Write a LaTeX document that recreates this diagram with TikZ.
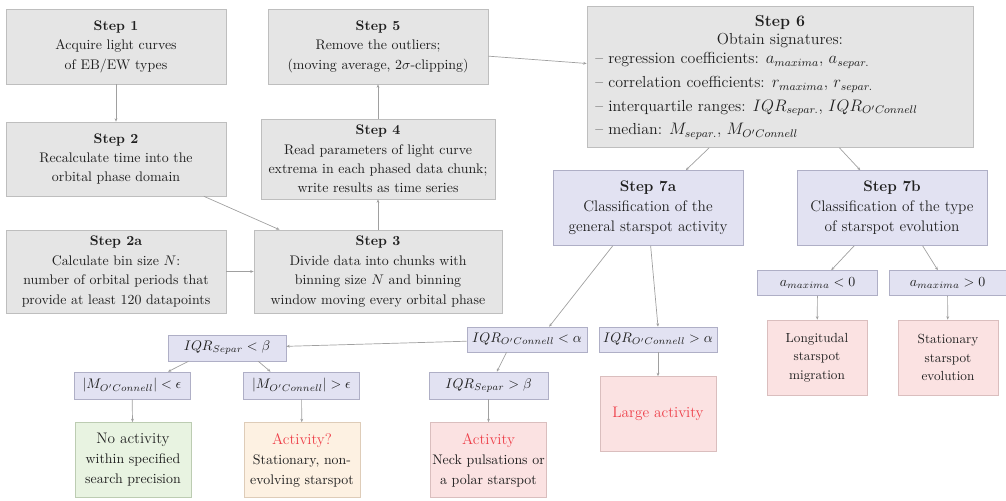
\documentclass[tikz,border=0pt]{standalone}
\usepackage{tikz}
\usetikzlibrary{arrows.meta}
\def\pxu{0.72pt}
\definecolor{stepfill}{RGB}{229,229,229}
\definecolor{stepline}{RGB}{190,190,190}
\definecolor{classfill}{RGB}{226,226,242}
\definecolor{classline}{RGB}{175,175,198}
\definecolor{nofill}{RGB}{232,243,225}
\definecolor{noline}{RGB}{188,204,178}
\definecolor{maybefill}{RGB}{253,241,226}
\definecolor{maybeline}{RGB}{222,204,184}
\definecolor{actfill}{RGB}{251,226,226}
\definecolor{actline}{RGB}{218,190,190}
\definecolor{acttext}{RGB}{238,62,72}
\definecolor{linkgray}{RGB}{160,160,160}
\tikzset{
  stepbox/.style={draw=stepline, fill=stepfill, rectangle, align=center, inner sep=1pt, text=black!88, font=\fontsize{10}{14}\selectfont},
  classbox/.style={draw=classline, fill=classfill, rectangle, align=center, inner sep=1pt, text=black!88, font=\fontsize{11}{14.4}\selectfont},
  condbox/.style={classbox, font=\normalsize, minimum height=25*\pxu},
  resbox/.style={rectangle, align=center, inner sep=1pt, text=black!88, minimum width=116*\pxu, minimum height=75*\pxu, font=\fontsize{10}{14.4}\selectfont},
  headtext/.style={font=\fontsize{11}{14.4}\selectfont},
  link/.style={draw=linkgray, line width=0.5pt, -{Stealth[length=2.5pt, width=2pt]}}
}
\begin{document}
\begin{tikzpicture}[x=0.72pt, y=-0.72pt]
		%%%%% START %%%%%
		\useasboundingbox (0,0) rectangle (1006,500);
		
		% left column of steps
		\node[stepbox, minimum width=220*\pxu, minimum height=75*\pxu] (s1) at (116,46.5) {\textbf{Step 1}\\Acquire light curves\\of EB/EW types};
		\node[stepbox, minimum width=220*\pxu, minimum height=74*\pxu] (s2) at (116,159) {\textbf{Step 2}\\Recalculate time into the\\orbital phase domain};
		\node[stepbox, minimum width=220*\pxu, minimum height=83*\pxu] (s2a) at (116,271.5) {\textbf{Step 2a}\\Calculate bin size $N$:\\number of orbital periods that\\provide at least 120 datapoints};
		
		% middle column
		\node[stepbox, minimum width=248*\pxu, minimum height=83*\pxu] (s3) at (378,271.5) {\textbf{Step 3}\\Divide data into chunks with\\binning size $N$ and binning\\window moving every orbital phase};
		\node[stepbox, minimum width=234*\pxu, minimum height=80*\pxu] (s4) at (378,159) {\textbf{Step 4}\\Read parameters of light curve\\extrema in each phased data chunk;\\write results as time series};
		\node[stepbox, minimum width=220*\pxu, minimum height=75*\pxu] (s5) at (378,46.5) {\textbf{Step 5}\\Remove the outliers;\\(moving average, $2\sigma$-clipping)};
		
		% signatures
		\node[stepbox, font=\fontsize{11.5}{13}\selectfont, minimum width=386*\pxu, minimum height=141*\pxu] (s6) at (780,77) {\begin{tabular}{@{}p{266pt}@{}}
			\multicolumn{1}{@{}c@{}}{\textbf{Step 6}}\\
			\multicolumn{1}{@{}c@{}}{Obtain signatures:}\\[1pt]
			-- regression coefficients: $a_{maxima}$, $a_{separ.}$\\[4pt]
			-- correlation coefficients: $r_{maxima}$, $r_{separ.}$\\[4pt]
			-- interquartile ranges: $IQR_{separ.}$, $IQR_{O'Connell}$\\[4pt]
			-- median: $M_{separ.}$, $M_{O'Connell}$
		\end{tabular}};
		
		% classification
		\node[classbox, minimum width=190*\pxu, minimum height=75*\pxu] (s7a) at (648,208) {\textbf{Step 7a}\\Classification of the\\general starspot activity};
		\node[classbox, minimum width=190*\pxu, minimum height=75*\pxu] (s7b) at (892,208) {\textbf{Step 7b}\\Classification of the type\\of starspot evolution};
		
		% type of evolution
		\node[condbox, minimum width=120*\pxu] (ca) at (817.5,283) {$a_{maxima}<0$};
		\node[condbox, minimum width=117*\pxu] (cb) at (947.5,283) {$a_{maxima}>0$};
		\node[resbox, draw=actline, fill=actfill, minimum width=100*\pxu, font=\fontsize{9.5}{13.2}\selectfont] (rl) at (817,357.5) {Longitudal\\starspot\\migration};
		\node[resbox, draw=actline, fill=actfill, minimum width=100*\pxu, font=\fontsize{9.5}{13.2}\selectfont] (rs) at (948,357.5) {Stationary\\starspot\\evolution};
		
		% general activity
		\node[condbox, minimum width=120*\pxu] (qa) at (527,339.5) {$IQR_{O'Connell}<\alpha$};
		\node[condbox, minimum width=118*\pxu] (qb) at (658,339.5) {$IQR_{O'Connell}>\alpha$};
		\node[resbox, draw=actline, fill=actfill, headtext] (rla) at (658,414) {\textcolor{acttext}{Large activity}};
		\node[condbox, minimum width=118*\pxu, minimum height=26*\pxu] (sb) at (227,348) {$IQR_{Separ}<\beta$};
		\node[condbox, minimum width=119*\pxu, minimum height=27*\pxu] (sc) at (488.5,385.5) {$IQR_{Separ}>\beta$};
		\node[condbox, minimum width=116*\pxu, minimum height=27*\pxu] (ma) at (132,385.5) {$|M_{O'Connell}|<\epsilon$};
		\node[condbox, minimum width=116*\pxu, minimum height=27*\pxu] (mb) at (301.5,385.5) {$|M_{O'Connell}|>\epsilon$};
		\node[resbox, draw=noline, fill=nofill] (rn) at (133,460) {{\fontsize{11}{14.4}\selectfont No activity}\\within specified\\search precision};
		\node[resbox, draw=maybeline, fill=maybefill] (rq) at (302,460) {{\fontsize{11}{14.4}\selectfont\color{acttext}Activity?}\\Stationary, non-\\evolving starspot};
		\node[resbox, draw=actline, fill=actfill] (rp) at (488.5,460) {{\fontsize{11}{14.4}\selectfont\color{acttext}Activity}\\Neck pulsations or\\a polar starspot};
		
		% connectors
		\draw[link] (s1) -- (s2);
		\draw[link] (s2.-23) -- (s3.157);
		\draw[link] (s2a) -- (s3);
		\draw[link] (s3) -- (s4);
		\draw[link] (s4) -- (s5);
		\draw[link] (s5.-5) -- (s6.176);
		\draw[link] (s6.225) -- (s7a.45);
		\draw[link] (s6.-50) -- (s7b.130);
		\draw[link] (s7b.225) -- (ca.43);
		\draw[link] (s7b.-51) -- (cb.127);
		\draw[link] (ca) -- (rl);
		\draw[link] (cb) -- (rs);
		\draw[link] (s7a.227) -- (qa.30);
		\draw[link] (s7a.-86) -- (qb.north);
		\draw[link] (qb) -- (rla);
		\draw[link] (qa) -- (sb);
		\draw[link] (qa.212) -- (sc.59);
		\draw[link] (sb.199) -- (ma.21);
		\draw[link] (sb.-23) -- (mb.156);
		\draw[link] (ma) -- (rn);
		\draw[link] (mb) -- (rq);
		\draw[link] (sc) -- (rp);
		
		%%%%% END %%%%%
	\end{tikzpicture}
\end{document}
